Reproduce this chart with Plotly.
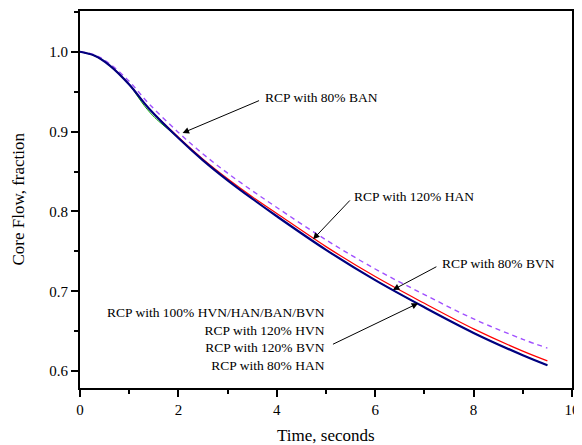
import plotly.graph_objects as go

# ---- data ----
time_s = [0, 0.3, 0.6, 1.0, 1.4, 2.0, 2.5, 3.0, 3.5, 4.0, 5.0, 6.0, 7.0, 8.0, 9.0, 9.5]
flow_base = [1.0, 0.995, 0.983, 0.959, 0.929, 0.892, 0.864, 0.839, 0.816, 0.794,
             0.752, 0.714, 0.680, 0.648, 0.620, 0.6075]
flow_120han = [1.0, 0.995, 0.983, 0.959, 0.929, 0.893, 0.8655, 0.841, 0.8185, 0.7975,
               0.756, 0.7185, 0.685, 0.653, 0.6252, 0.613]
flow_80ban = [1.0, 0.996, 0.985, 0.963, 0.935, 0.899, 0.872, 0.848, 0.826, 0.805,
              0.7645, 0.728, 0.696, 0.6655, 0.640, 0.629]
time_green = [0, 0.3, 0.6, 1.0, 1.15, 1.3, 1.45, 1.6, 2.0, 2.5, 3.0, 3.5, 4.0, 5.0,
              6.0, 7.0, 8.0, 9.0, 9.5]
flow_green = [1.0, 0.995, 0.983, 0.959, 0.946, 0.933, 0.922, 0.913, 0.892, 0.864,
              0.839, 0.816, 0.794, 0.752, 0.714, 0.680, 0.648, 0.620, 0.6075]

x_ticks = [0, 2, 4, 6, 8, 10]
y_ticks = [0.6, 0.7, 0.8, 0.9, 1.0]
y_tick_labels = ["0.6", "0.7", "0.8", "0.9", "1.0"]

FONT = "Liberation Serif"

fig = go.Figure()
fig.add_trace(go.Scatter(x=time_green, y=flow_green, mode="lines",
                         line=dict(color="#00A000", width=1, shape="spline"),
                         showlegend=False))
fig.add_trace(go.Scatter(x=time_s, y=flow_80ban, mode="lines",
                         line=dict(color="#A050FF", width=1.4, dash="5px,4px", shape="spline"),
                         showlegend=False))
fig.add_trace(go.Scatter(x=time_s, y=flow_120han, mode="lines",
                         line=dict(color="#FF0000", width=1.2, shape="spline"),
                         showlegend=False))
fig.add_trace(go.Scatter(x=time_s, y=flow_base, mode="lines",
                         line=dict(color="#000080", width=2.2, shape="spline"),
                         showlegend=False))

arrows = [
    # (tip_x, tip_y, tail_x, tail_y)
    (2.085, 0.8983, 3.67, 0.9396),
    (4.737, 0.7652, 5.514, 0.8157),
    (6.358, 0.7018, 7.274, 0.7318),
    (6.873, 0.6851, 5.111, 0.6329),
]
for tx, ty, sx, sy in arrows:
    fig.add_annotation(x=tx, y=ty, ax=sx, ay=sy, xref="x", yref="y",
                       axref="x", ayref="y", text="", showarrow=True,
                       arrowhead=2, arrowsize=1.3, arrowwidth=1,
                       arrowcolor="black", standoff=0, startstandoff=0)

texts = [
    (3.712, 0.9433, "RCP with 80% BAN", "left"),
    (5.524, 0.8185, "RCP with 120% HAN", "left"),
    (7.314, 0.7352, "RCP with 80% BVN", "left"),
    (5.029, 0.6400, "RCP with 100% HVN/HAN/BAN/BVN<br>RCP with 120% HVN<br>"
                    "RCP with 120% BVN<br>RCP with 80% HAN", "right"),
]
for x, y, t, anc in texts:
    fig.add_annotation(x=x, y=y, xref="x", yref="y", text=t, showarrow=False,
                       xanchor=anc, yanchor="middle", align="right",
                       font=dict(family=FONT, size=13.5, color="black"))

# axis titles placed in paper coordinates
fig.add_annotation(x=0.5, y=-0.1247, xref="paper", yref="paper", text="Time, seconds",
                   showarrow=False, xanchor="center", yanchor="middle",
                   font=dict(family=FONT, size=17, color="black"))
fig.add_annotation(x=-0.126, y=0.5, xref="paper", yref="paper", text="Core Flow, fraction",
                   showarrow=False, xanchor="center", yanchor="middle", textangle=-90,
                   font=dict(family=FONT, size=17, color="black"))

axis_common = dict(showgrid=False, zeroline=False, showline=True, linecolor="black",
                   linewidth=2, mirror=True, ticks="outside", ticklen=7,
                   tickwidth=1.5, tickcolor="black", automargin=False,
                   tickfont=dict(family=FONT, size=15, color="black"))

fig.update_xaxes(range=[0, 10], tickvals=x_ticks,
                 minor=dict(ticks="outside", ticklen=4, tickwidth=1.5, tickcolor="black", dtick=1),
                 **axis_common)
fig.update_yaxes(range=[0.579, 1.051], tickvals=y_ticks, ticktext=y_tick_labels,
                 minor=dict(ticks="outside", ticklen=4, tickwidth=1.5, tickcolor="black",
                            tickvals=[0.65, 0.75, 0.85, 0.95, 1.05]),
                 **axis_common)

# page body has an 8px margin, so the figure is sized/offset to compensate
fig.update_layout(width=574, height=437, margin=dict(l=72, r=10, t=3, b=57),
                  plot_bgcolor="white", paper_bgcolor="white",
                  font=dict(family=FONT, color="black"))

fig.write_html("out.html")
